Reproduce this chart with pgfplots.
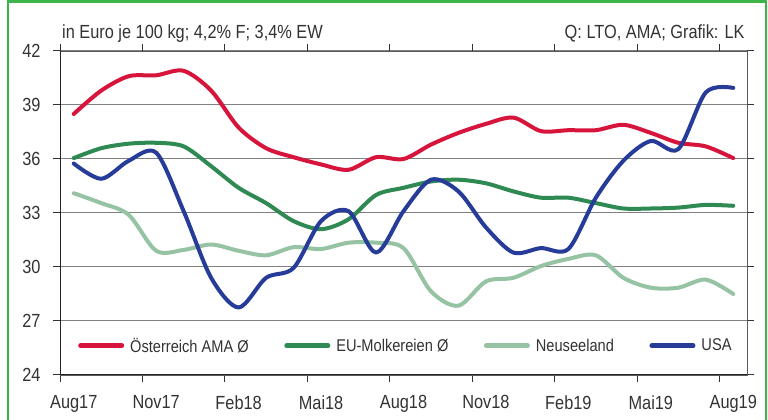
\documentclass[border=0pt]{standalone}
\usepackage{pgfplots}
\pgfplotsset{compat=1.18}
\usepackage{fontspec}
\setmainfont{Liberation Sans}[FakeStretch=0.86]
\definecolor{cRed}{HTML}{D7143C}
\definecolor{cGreen}{HTML}{2E8A52}
\definecolor{cLight}{HTML}{95C3A4}
\definecolor{cBlue}{HTML}{263C98}
\definecolor{cFrame}{HTML}{3DB54B}
\definecolor{cText}{HTML}{333333}
\begin{document}
\begin{tikzpicture}
\useasboundingbox (0pt,0pt) rectangle (768pt,420pt);
\fill[white] (0pt,0pt) rectangle (768pt,420pt);
\draw[cFrame, line width=2pt] (8pt,-10pt) -- (8pt,418.7pt) -- (765.5pt,418.7pt) -- (765.5pt,-10pt);
\draw[cFrame, line width=2.7pt] (8pt,418.7pt) -- (765.5pt,418.7pt);
\node[anchor=base west, inner sep=0pt, text=cText, font=\fontsize{19}{22}\selectfont] at (62pt,381.7pt) {in Euro je 100 kg; 4,2\% F; 3,4\% EW};
\node[anchor=base east, inner sep=0pt, text=cText, font=\fontsize{19}{22}\selectfont] at (744.7pt,381.7pt) {Q: LTO, AMA; Grafik: LK};
\begin{axis}[
  at={(60pt,45pt)}, anchor=south west, scale only axis,
  width=687pt, height=324pt,
  xmin=0, xmax=25, ymin=24, ymax=42,
  ytick={24,27,...,42},
  xtick={0,3,...,24},
  xticklabels={Aug17,Nov17,Feb18,Mai18,Aug18,Nov18,Feb19,Mai19,Aug19},
  xticklabel style={xshift=13.74pt, yshift=-10pt, text=cText, font=\fontsize{19}{22}\selectfont},
  yticklabel style={xshift=-9pt, text=cText, font=\fontsize{19}{22}\selectfont},
  /pgf/number format/assume math mode=true,
  tick align=outside, major tick length=7pt,
  tick style={black!80, line width=1pt},
  ymajorgrids, grid style={gray, line width=1pt},
  axis line style={gray!70!black, line width=0.8pt},
  legend columns=4,
  legend style={at={(rel axis cs:0.0262,0.0904)}, anchor=west, draw=none, fill=none, inner sep=0pt,
    font=\fontsize{17}{20}\selectfont, text=cText,
    /tikz/every even column/.append style={column sep=35.5pt},
    nodes={inner sep=0pt, anchor=west}},
  legend image code/.code={\draw[#1, line width=4.5pt, line cap=round] (2.25pt,0pt) -- (43.75pt,0pt); \path (50pt,0pt);},
  every axis plot/.append style={line width=4pt, line cap=round, line join=round, smooth, no markers},
]
\addplot[cRed] coordinates {(0.5,38.5)(1.5,39.8)(2.5,40.6)(3.5,40.65)(4.5,40.9)(5.5,39.8)(6.5,37.75)(7.5,36.6)(8.5,36.1)(9.5,35.7)(10.5,35.4)(11.5,36.1)(12.5,36.0)(13.5,36.8)(14.5,37.45)(15.5,37.95)(16.5,38.3)(17.5,37.55)(18.5,37.6)(19.5,37.6)(20.5,37.9)(21.5,37.45)(22.5,36.9)(23.5,36.7)(24.5,36.05)};
\addlegendentry{Österreich AMA Ø}
\addplot[cGreen] coordinates {(0.5,36.05)(1.5,36.6)(2.5,36.85)(3.5,36.9)(4.5,36.7)(5.5,35.6)(6.5,34.4)(7.5,33.55)(8.5,32.55)(9.5,32.1)(10.5,32.65)(11.5,34.0)(12.5,34.4)(13.5,34.75)(14.5,34.85)(15.5,34.65)(16.5,34.2)(17.5,33.85)(18.5,33.85)(19.5,33.55)(20.5,33.25)(21.5,33.25)(22.5,33.3)(23.5,33.45)(24.5,33.4)};
\addlegendentry{EU-Molkereien Ø}
\addplot[cLight] coordinates {(0.5,34.1)(1.5,33.55)(2.5,32.9)(3.5,30.9)(4.5,30.95)(5.5,31.25)(6.5,30.9)(7.5,30.65)(8.5,31.1)(9.5,31.0)(10.5,31.35)(11.5,31.35)(12.5,31.05)(13.5,28.65)(14.5,27.85)(15.5,29.2)(16.5,29.4)(17.5,30.05)(18.5,30.45)(19.5,30.65)(20.5,29.4)(21.5,28.85)(22.5,28.85)(23.5,29.3)(24.5,28.5)};
\addlegendentry{Neuseeland}
\addplot[cBlue] coordinates {(0.5,35.75)(1.5,34.9)(2.5,35.9)(3.5,36.35)(4.5,33.1)(5.5,29.4)(6.5,27.75)(7.5,29.4)(8.5,29.95)(9.5,32.55)(10.5,33.1)(11.5,30.8)(12.5,33.1)(13.5,34.85)(14.5,34.2)(15.5,32.2)(16.5,30.8)(17.5,31.05)(18.5,31.0)(19.5,33.85)(20.5,35.9)(21.5,37.0)(22.5,36.55)(23.5,39.7)(24.5,39.95)};
\addlegendentry{USA}
\draw[black!85, line width=1.6pt] (rel axis cs:0,1) -- (rel axis cs:0,0) -- (rel axis cs:1,0);
\end{axis}
\end{tikzpicture}
\end{document}
